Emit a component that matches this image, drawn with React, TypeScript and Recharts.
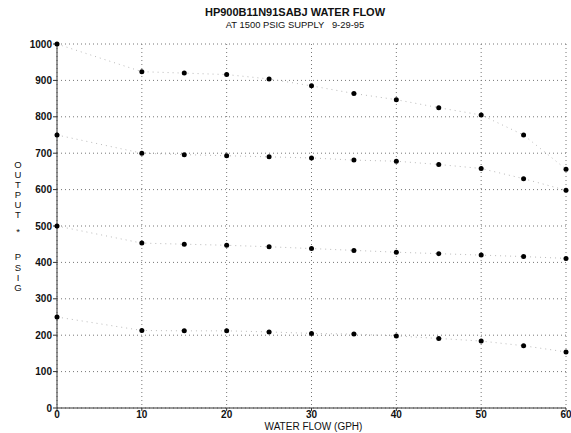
import React from 'react';
import { LineChart, Line, XAxis, YAxis, CartesianGrid } from 'recharts';

const flowGph = [0, 10, 15, 20, 25, 30, 35, 40, 45, 50, 55, 60];
const output1000 = [1000, 924, 920, 916, 904, 885, 864, 847, 825, 805, 750, 656];
const output750 = [750, 700, 696, 693, 690, 687, 681, 678, 669, 658, 630, 598];
const output500 = [500, 453, 450, 447, 443, 438, 433, 428, 424, 420, 416, 411];
const output250 = [250, 213, 212, 212, 209, 205, 203, 198, 191, 184, 171, 154];

const xTicks = [0, 10, 20, 30, 40, 50, 60];
const yTicks = [0, 100, 200, 300, 400, 500, 600, 700, 800, 900, 1000];
const yLabelLetters = ['O', 'U', 'T', 'P', 'U', 'T', '*', 'P', 'S', 'I', 'G'];
const yLabelPos = [164, 174, 184, 194, 204, 214, 231, 256, 267, 277, 287];

const data = flowGph.map((x, i) => ({
  x,
  s1: output1000[i],
  s2: output750[i],
  s3: output500[i],
  s4: output250[i],
}));

const font = 'Liberation Sans, Arial, sans-serif';
const seriesKeys = ['s1', 's2', 's3', 's4'];

export default function App() {
  return (
    <div style={{ position: 'absolute', left: 0, top: 0, width: 571, height: 433, background: '#fff', fontFamily: font, overflow: 'hidden' }}>
      <div style={{ position: 'absolute', left: 0, width: 590, top: 6, textAlign: 'center', fontSize: 11, lineHeight: '13px', fontWeight: 'bold', color: '#111' }}>
        HP900B11N91SABJ WATER FLOW
      </div>
      <div style={{ position: 'absolute', left: 0, width: 590, top: 19, textAlign: 'center', fontSize: 9.4, lineHeight: '12px', color: '#111', whiteSpace: 'pre' }}>
        {'AT 1500 PSIG SUPPLY   9-29-95'}
      </div>
      {yLabelLetters.map((ch, i) => (
        <div key={i} style={{ position: 'absolute', left: 8, width: 20, top: yLabelPos[i] - 4.5, textAlign: 'center', fontSize: 9.5, lineHeight: '9px', color: '#111' }}>
          {ch}
        </div>
      ))}
      <div style={{ position: 'absolute', left: 0, width: 627, top: 421, textAlign: 'center', fontSize: 10, lineHeight: '12px', color: '#111' }}>
        WATER FLOW (GPH)
      </div>
      <LineChart width={571} height={433} data={data} margin={{ top: 44, right: 5, bottom: 5, left: 0 }}>
        <CartesianGrid stroke="#777" strokeDasharray="1 3" />
        <XAxis
          dataKey="x"
          type="number"
          domain={[0, 60]}
          ticks={xTicks}
          height={20}
          tickSize={3}
          tickMargin={0}
          axisLine={{ stroke: '#333' }}
          tickLine={{ stroke: '#333' }}
          tick={{ fontSize: 10, fill: '#111', fontFamily: font, fontWeight: 'bold' }}
        />
        <YAxis
          type="number"
          domain={[0, 1000]}
          ticks={yTicks}
          width={57}
          tickSize={4}
          tickMargin={1}
          axisLine={{ stroke: '#333' }}
          tickLine={{ stroke: '#333' }}
          tick={{ fontSize: 10, fill: '#111', fontFamily: font, fontWeight: 'bold' }}
        />
        {seriesKeys.map((k) => (
          <Line
            key={k}
            dataKey={k}
            type="linear"
            stroke="#bbb"
            strokeWidth={1}
            strokeDasharray="1 4"
            dot={{ r: 2.5, fill: '#000', stroke: 'none' }}
            isAnimationActive={false}
          />
        ))}
      </LineChart>
    </div>
  );
}
